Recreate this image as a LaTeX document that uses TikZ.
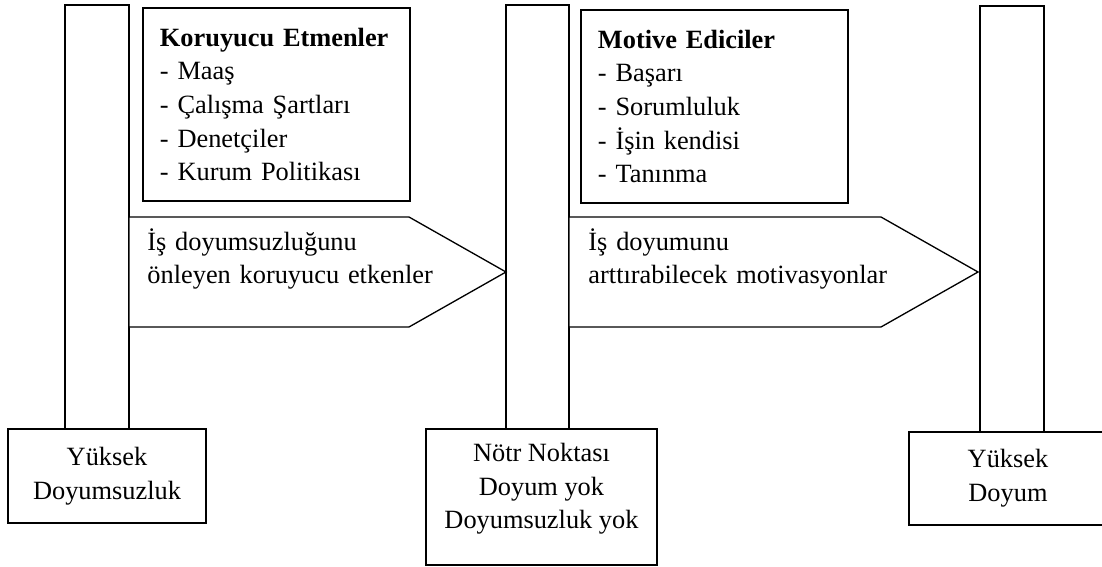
\documentclass[tikz,border=0pt]{standalone}
\usepackage{fontspec}
\setmainfont{Liberation Serif}
\tikzset{
  scalebar/.style={draw,line width=.6pt,fill=white},
  arrowshape/.style={draw,line width=.6pt,fill=white},
  txt/.style={font=\fontsize{12}{15.3}\selectfont},
  infobox/.style={txt,draw,line width=.9pt,fill=white,anchor=north west,
    align=left,text width=106.1pt,inner xsep=7.74pt,minimum height=87.9pt},
  levelbox/.style={txt,draw,line width=.9pt,fill=white,align=center},
  arrowtext/.style={txt,anchor=base west,align=left,text width=150pt,inner sep=0pt}}

\begin{document}
\begin{tikzpicture}[x=0.16mm,y=-0.16mm]
\useasboundingbox (0,0) rectangle (1102,567);
\clip (0,0) rectangle (1102,567);

\draw[scalebar] (65,5) rectangle (129,429);
\draw[scalebar] (506,5) rectangle (569,429);
\draw[scalebar] (980,6) rectangle (1044,432);

\node[infobox] (koruyucu) at (142,7)
  {\textbf{Koruyucu Etmenler}\\- Maaş\\- Çalışma Şartları\\- Denetçiler\\- Kurum Politikası};
\node[infobox] (motive) at (580,9)
  {\textbf{Motive Ediciler}\\- Başarı\\- Sorumluluk\\- İşin kendisi\\- Tanınma};

\draw[arrowshape] (129,217) -- (409,217) -- (506,272) -- (409,327) -- (129,327) -- cycle;
\draw[arrowshape] (569,217) -- (881,217) -- (978,272) -- (881,327) -- (569,327) -- cycle;
\node[arrowtext] (onleyen) at (147,250) {İş doyumsuzluğunu\\önleyen koruyucu etkenler};
\node[arrowtext] (arttiran) at (588,250) {İş doyumunu\\arttırabilecek motivasyonlar};

\node[levelbox,minimum width=90.1pt,minimum height=42.8pt] (doyumsuz) at (107,476)
  {Yüksek\\Doyumsuzluk};
\node[levelbox,minimum width=105.2pt,minimum height=61.9pt] (notr) at (541.5,497) {};
\node[txt,align=center] (notrtext) at (541.5,489) {Nötr Noktası\\Doyum yok\\Doyumsuzluk yok};
\node[levelbox,minimum width=90.1pt,minimum height=42.3pt] (doyum) at (1008,478.5)
  {Yüksek\\Doyum};

\end{tikzpicture}
\end{document}
